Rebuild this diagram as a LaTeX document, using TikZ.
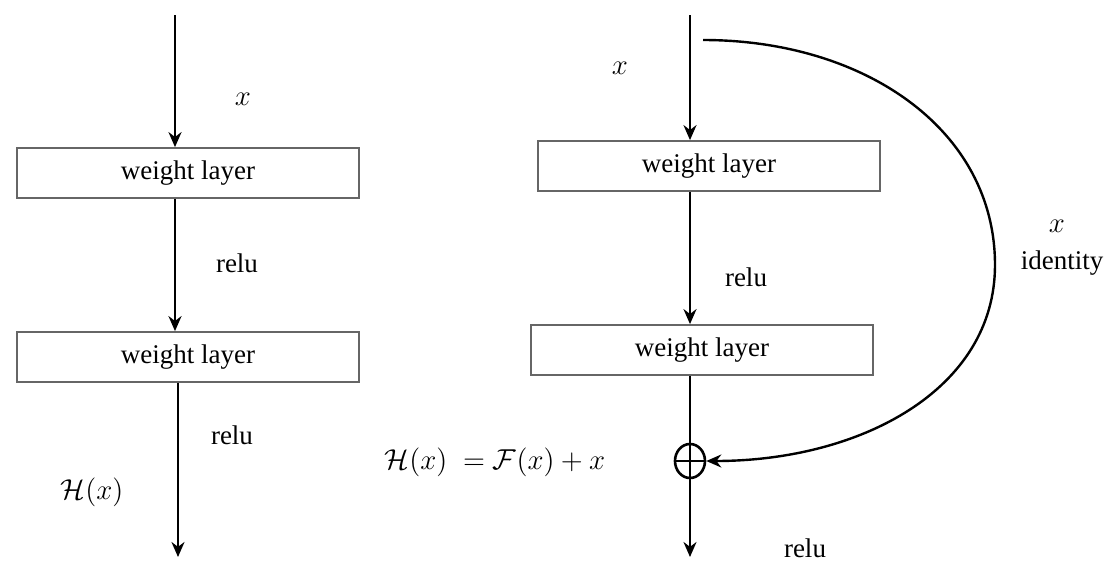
\documentclass[tikz,border=0pt]{standalone}
\usepackage{fontspec}
\setmainfont{Liberation Serif}
\usetikzlibrary{arrows.meta,shapes.geometric}
\begin{document}
\begin{tikzpicture}[x=0.5pt,y=-0.5pt,
  every node/.style={font=\fontsize{13.5}{16}\selectfont},
  layer/.style={draw=black!60, line width=0.9pt, minimum width=171pt, minimum height=25pt, inner sep=0pt},
  conn/.style={line width=1.2pt, -{Stealth[length=7.5pt,width=6.5pt]}},
  plain/.style={line width=1.2pt},
  sumnode/.style={ellipse, draw, line width=1.3pt, minimum width=15pt, minimum height=17pt, inner sep=0pt,
    path picture={\draw[line width=1.2pt] (path picture bounding box.north) -- (path picture bounding box.south)
      (path picture bounding box.west) -- (path picture bounding box.east);}},
  lbl/.style={inner sep=1pt},
  mlbl/.style={inner sep=1pt, font=\fontsize{15.5}{18}\selectfont}
]
\useasboundingbox (0,0) rectangle (1105,563);

% ---- left: plain block ----
\coordinate (inL) at (175,15);
\node[layer] (wL1) at (188,173) {weight layer};
\node[layer] (wL2) at (188,357) {weight layer};
\coordinate (outL) at (178,557);
\draw[conn] (inL) -- (inL |- wL1.north);
\draw[conn] (wL1.south -| inL) -- (wL2.north -| inL);
\draw[conn] (wL2.south -| outL) -- (outL);
\node[mlbl] (xL) at (243,99) {$x$};
\node[lbl] (reluL1) at (237,263) {relu};
\node[lbl] (reluL2) at (232,435) {relu};
\node[mlbl] (HL) at (92,492) {$\mathcal{H}(x)$};

% ---- right: residual block ----
\coordinate (inR) at (690,15);
\node[layer] (wR1) at (709,166) {weight layer};
\node[layer] (wR2) at (702,350) {weight layer};
\node[sumnode] (sum) at (690,461) {};
\coordinate (outR) at (690,557);
\coordinate (skipA) at (703,40);
\coordinate (skipB) at (995,265);
\draw[conn] (skipA) .. controls (865,40) and (995,130) .. (skipB)
  .. controls (995,390) and (860,461) .. (sum.east);
\draw[conn] (inR) -- (inR |- wR1.north);
\draw[conn] (wR1.south -| inR) -- (wR2.north -| inR);
\draw[plain] (wR2.south -| sum) -- (sum.north);
\draw[conn] (sum.south) -- (outR);
\node[mlbl] (xR) at (620,68) {$x$};
\node[lbl] (reluR1) at (746,277) {relu};
\node[lbl] (reluR2) at (805,548) {relu};
\node[mlbl] (xskip) at (1057,226) {$x$};
\node[lbl] (ident) at (1062,263) {identity};
\node[mlbl] (eq) at (495,462) {$\mathcal{H}(x)\ = \mathcal{F}(x) + x$};
\end{tikzpicture}
\end{document}
